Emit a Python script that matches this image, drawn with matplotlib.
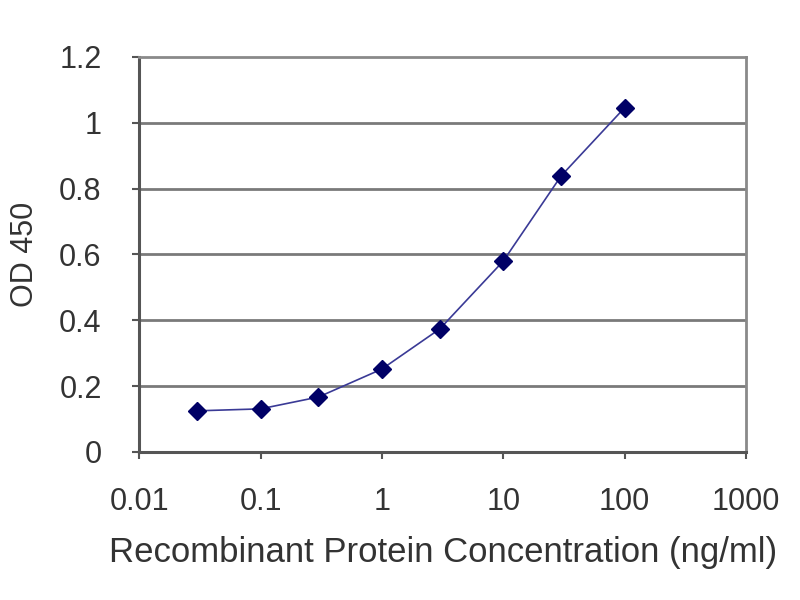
import matplotlib
matplotlib.use('Agg')
import matplotlib.pyplot as plt
import numpy as np

# concentration (ng/ml) and OD 450
conc = [0.03, 0.1, 0.3, 1, 3, 10, 30, 100]
od450 = [0.125, 0.131, 0.167, 0.252, 0.374, 0.58, 0.839, 1.046]

xticks = [0.01, 0.1, 1, 10, 100, 1000]
xticklabels = ['0.01', '0.1', '1', '10', '100', '1000']
yticks = [0, 0.2, 0.4, 0.6, 0.8, 1.0, 1.2]
yticklabels = ['0', '0.2', '0.4', '0.6', '0.8', '1', '1.2']

plt.rcParams['font.family'] = ['Liberation Sans', 'DejaVu Sans']
textcol = '#333333'

fig = plt.figure(figsize=(8, 6), dpi=100)
ax = fig.add_axes([0.174, 0.2467, 0.7585, 0.6583])

# horizontal gridlines
for yv in yticks[1:-1]:
    ax.axhline(yv, color='#7a7a7a', lw=2.0, zorder=1)

ax.plot(conc, od450, color='#3a3a96', lw=1.2, marker='D', ms=9,
        markerfacecolor='#000066', markeredgecolor='#000066', zorder=3)

ax.set_xscale('log')
ax.set_xlim(0.01, 1000)
ax.set_ylim(0, 1.2)
ax.set_xticks(xticks)
ax.set_xticklabels(xticklabels)
ax.minorticks_off()
ax.set_yticks(yticks)
ax.set_yticklabels(yticklabels)

for side in ['top', 'right']:
    ax.spines[side].set_color('#8a8a8a')
    ax.spines[side].set_linewidth(2.0)
for side in ['left', 'bottom']:
    ax.spines[side].set_color('#555555')
    ax.spines[side].set_linewidth(2.2)

ax.tick_params(axis='both', direction='out', length=5, width=1.5,
               color='#555555', labelcolor=textcol, labelsize=22)
ax.tick_params(axis='y', pad=22)
ax.tick_params(axis='x', pad=20)

ax.set_xlabel('Recombinant Protein Concentration (ng/ml)', fontsize=25,
              color=textcol, labelpad=14)
ax.set_ylabel('OD 450', fontsize=22, color=textcol, labelpad=14)

fig.savefig('out.png', dpi=100)
